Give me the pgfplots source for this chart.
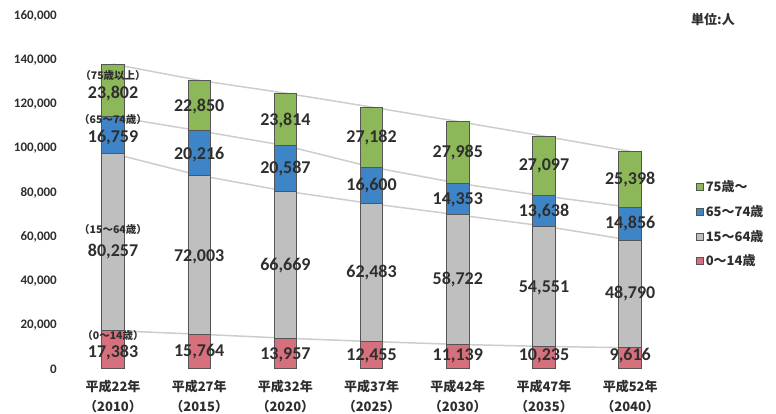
\documentclass[border=0pt]{standalone}
\usepackage{fontspec}
\setmainfont{Carlito}
\newfontfamily\jp{Noto Sans CJK JP}
\usepackage{pgfplots}
\pgfplotsset{compat=1.18}
\usepackage{pgfplotstable}
\definecolor{cG}{HTML}{8DB85A}
\definecolor{cB}{HTML}{3D85C6}
\definecolor{cS}{HTML}{BFBFBF}
\definecolor{cR}{HTML}{D6707D}
\definecolor{cL}{HTML}{CDCDCD}
\definecolor{cT}{HTML}{2E2E2E}
\definecolor{cE}{HTML}{555555}

\pgfplotstableread{
x a b c d
0 17383 80257 16759 23802
1 15764 72003 20216 22850
2 13957 66669 20587 23814
3 12455 62483 16600 27182
4 11139 58722 14353 27985
5 10235 54551 13638 27097
6 9616 48790 14856 25398
}\pop

\pgfplotstableread{
x s1 s2 s3 s4
0 17383 97640 114399 138201
1 15764 87767 107983 130833
2 13957 80626 101213 125027
3 12455 74938 91538 118720
4 11139 69861 84214 112199
5 10235 64786 78424 105521
6 9616 58406 73262 98660
}\cum

\pgfplotstableread{
x y lab
0 124700 23,802
0 104750 16,759
0 53060 80,257
0 7250 17,383
1 118820 22,850
1 97050 20,216
1 50790 72,003
1 7710 15,764
2 112470 23,814
2 90700 20,587
2 46710 66,669
2 6350 13,957
3 104760 27,182
3 82990 16,600
3 43540 62,483
3 5900 12,455
4 97960 27,985
4 76640 14,353
4 40360 58,722
4 5900 11,139
5 92060 27,097
5 71200 13,638
5 36730 54,551
5 5900 10,235
6 85710 25,398
6 65760 14,856
6 34010 48,790
6 5900 9,616
}\labs

\pgfplotstableread{
x y lab
0 132900 （75歳以上）
0 113000 （65〜74歳）
0 63040 （15〜64歳）
0 15400 （0〜14歳）
}\names

\pgfplotsset{
  base/.style={
    scale only axis, width=620pt, height=353pt,
    at={(60pt,45pt)}, anchor=south west,
    xmin=-0.615, xmax=6.578, ymin=0, ymax=160000,
    axis line style={draw=none}, tick style={draw=none},
    clip=false,
  },
  hidden/.style={base, hide axis},
}

\begin{document}
\begin{tikzpicture}
\useasboundingbox (0,0) rectangle (776pt,414pt);
% lines + ticks
\begin{axis}[base,
  ytick={0,20000,...,160000},
  scaled y ticks=false,
  /pgf/number format/.cd, 1000 sep={,}, assume math mode=true, fixed,
  /pgfplots/.cd,
  yticklabel style={font=\bfseries\fontsize{13}{15}\selectfont, text=cT, inner sep=0pt, xshift=-3pt},
  xtick={0,...,6},
  xticklabels={{平成22年\\（2010）},{平成27年\\（2015）},{平成32年\\（2020）},{平成37年\\（2025）},{平成42年\\（2030）},{平成47年\\（2035）},{平成52年\\（2040）}},
  xticklabel style={align=center, font=\jp\bfseries\fontsize{13}{20}\selectfont, text=cT, inner sep=0pt, yshift=-11pt},
]
\addplot[cL, line width=1.5pt] table[x=x,y=s1]{\cum};
\addplot[cL, line width=1.5pt] table[x=x,y=s2]{\cum};
\addplot[cL, line width=1.5pt] table[x=x,y=s3]{\cum};
\addplot[cL, line width=1.5pt] table[x=x,y=s4]{\cum};
\end{axis}
% bars
\begin{axis}[hidden,
  ybar stacked, bar width=0.26,
  reverse legend,
  legend style={at={(1.021,0.545)}, anchor=north west, draw=none, fill=none,
    font=\jp\bfseries\fontsize{13}{15}\selectfont, text=cT, row sep=8pt,
    /tikz/every even column/.append style={column sep=2pt}},
  legend cell align=left,
  legend image code/.code={\draw[#1, draw=cE, line width=0.6pt] (0pt,-3.5pt) rectangle (7pt,3.5pt);},
]
\addplot[fill=cR, draw=cE, line width=1pt] table[x=x,y=a]{\pop};
\addlegendentry{0〜14歳}
\addplot[fill=cS, draw=cE, line width=1pt] table[x=x,y=b]{\pop};
\addlegendentry{15〜64歳}
\addplot[fill=cB, draw=cE, line width=1pt] table[x=x,y=c]{\pop};
\addlegendentry{65〜74歳}
\addplot[fill=cG, draw=cE, line width=1pt] table[x=x,y=d]{\pop};
\addlegendentry{75歳〜}
\end{axis}
% labels
\begin{axis}[hidden]
\addplot[draw=none, mark=none, nodes near coords, point meta=explicit symbolic,
  nodes near coords align={center},
  every node near coord/.append style={anchor=center, inner sep=0pt, text=cT, font=\bfseries\fontsize{18}{20}\selectfont}]
  table[x=x,y=y,meta=lab]{\labs};
\addplot[draw=none, mark=none, nodes near coords, point meta=explicit symbolic,
  nodes near coords align={center},
  every node near coord/.append style={anchor=center, inner sep=0pt, text=cT, font=\jp\bfseries\fontsize{10.5}{12}\selectfont}]
  table[x=x,y=y,meta=lab]{\names};
\end{axis}
\node[anchor=west, inner sep=0pt, text=cT, font=\jp\bfseries\fontsize{13}{15}\selectfont] at (691pt,394pt) {単位:人};
\end{tikzpicture}
\end{document}
